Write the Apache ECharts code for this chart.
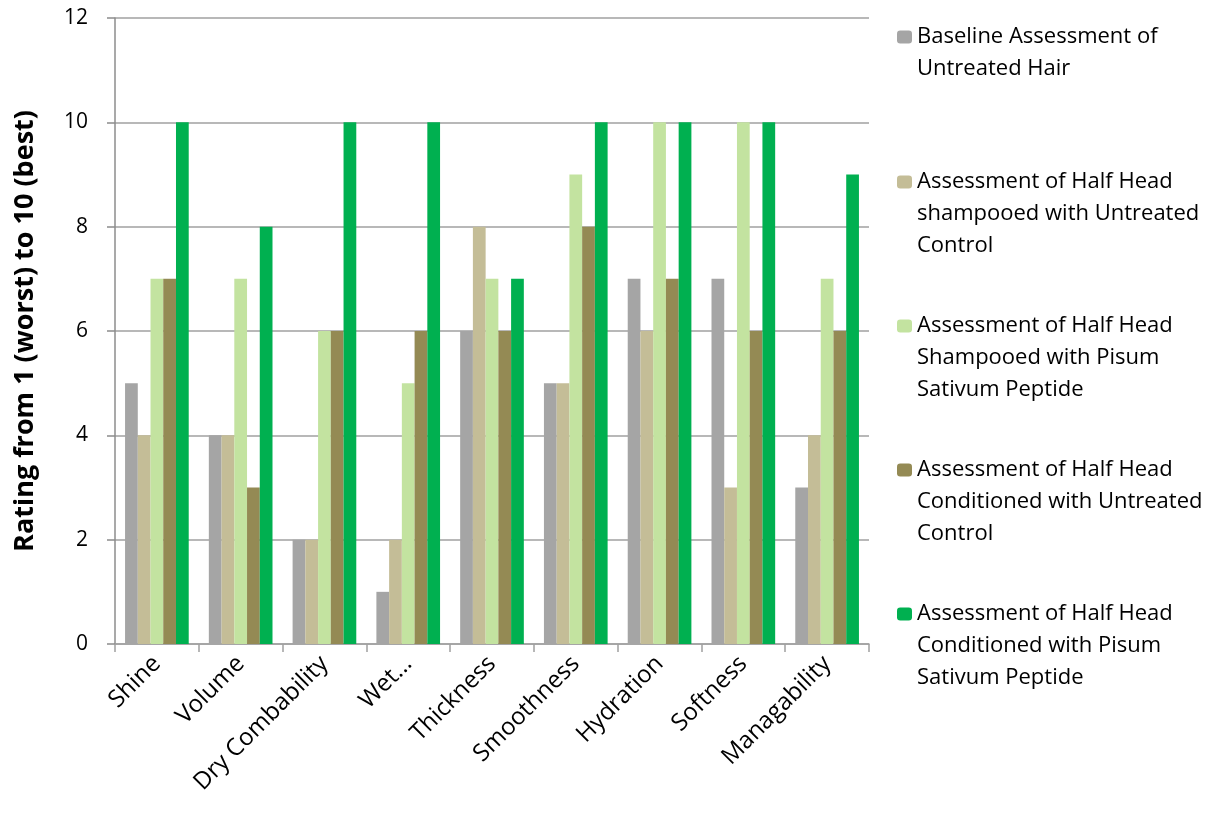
<!DOCTYPE html>
<html>
<head>
<meta charset="utf-8">
<script src="https://cdn.jsdelivr.net/npm/echarts@6/dist/echarts.min.js"></script>
<style>
  html, body { margin: 0; padding: 0; background: #fff; }
  #chart { width: 1224px; height: 814px; }
</style>
</head>
<body>
<div id="chart"></div>
<script>
// categories and ratings
var categories = ['Shine', 'Volume', 'Dry Combability', 'Wet...', 'Thickness', 'Smoothness', 'Hydration', 'Softness', 'Managability'];
var baseline      = [5, 4, 2, 1, 6, 5, 7, 7, 3];
var shampooCtrl   = [4, 4, 2, 2, 8, 5, 6, 3, 4];
var shampooPisum  = [7, 7, 6, 5, 7, 9, 10, 10, 7];
var conditCtrl    = [7, 3, 6, 6, 6, 8, 7, 6, 6];
var conditPisum   = [10, 8, 10, 10, 7, 10, 10, 10, 9];
var yTicks = [0, 2, 4, 6, 8, 10, 12];

var seriesNames = [
  'Baseline Assessment of\nUntreated Hair',
  'Assessment of Half Head\nshampooed with Untreated\nControl',
  'Assessment of Half Head\nShampooed with Pisum\nSativum Peptide',
  'Assessment of Half Head\nConditioned with Untreated\nControl',
  'Assessment of Half Head\nConditioned with Pisum\nSativum Peptide'
];
var seriesData = [baseline, shampooCtrl, shampooPisum, conditCtrl, conditPisum];
var colors = ['#A5A5A5', '#C4BD97', '#C3E3A0', '#948A54', '#00B050'];

var font = 'Open Sans';
var lineH = 32;
var markerY = [37, 182, 326, 470, 614];

// one legend per series; blank lines in front push the marker up to the first line
var legends = seriesNames.map(function (name, i) {
  var n = name.split('\n').length;
  return {
    orient: 'vertical',
    left: 897,
    top: markerY[i] - (2 * n - 1) * lineH / 2,
    padding: 0,
    itemWidth: 15,
    itemHeight: 13,
    itemGap: 0,
    selectedMode: false,
    data: [name],
    formatter: function (nm) {
      var k = nm.split('\n').length;
      return new Array(k).join('\n') + nm;
    },
    textStyle: {
      fontFamily: font,
      fontSize: 22,
      color: '#000',
      lineHeight: lineH
    }
  };
});

var myChart = echarts.init(document.getElementById('chart'));

var option = {
  animation: false,
  color: colors,
  legend: legends,
  grid: { left: 115, right: 1224 - 869, top: 18, bottom: 814 - 644, containLabel: false },
  xAxis: {
    type: 'category',
    data: categories,
    axisLine: { lineStyle: { color: '#A0A0A0', width: 1.5 } },
    axisTick: { show: true, length: 8, lineStyle: { color: '#A0A0A0', width: 1.5 } },
    axisLabel: { rotate: 45, interval: 0, fontFamily: font, fontSize: 24, color: '#000', margin: 16 }
  },
  yAxis: {
    type: 'value',
    min: yTicks[0],
    max: yTicks[yTicks.length - 1],
    interval: 2,
    name: 'Rating from 1 (worst) to 10 (best)',
    nameLocation: 'middle',
    nameGap: 76,
    nameTextStyle: { fontFamily: font, fontSize: 27, fontWeight: 'bold', color: '#000' },
    axisLine: { show: true, lineStyle: { color: '#8C8C8C', width: 1.5 } },
    axisTick: { show: true, length: 8, lineStyle: { color: '#8C8C8C', width: 1.5 } },
    axisLabel: { fontFamily: font, fontSize: 21, color: '#000', margin: 27 },
    splitLine: { lineStyle: { color: '#A0A0A0', width: 1.5 } }
  },
  series: seriesData.map(function (d, i) {
    return {
      name: seriesNames[i],
      type: 'bar',
      data: d,
      barGap: '0%',
      barCategoryGap: '24%'
    };
  })
};

myChart.setOption(option);
</script>
</body>
</html>
